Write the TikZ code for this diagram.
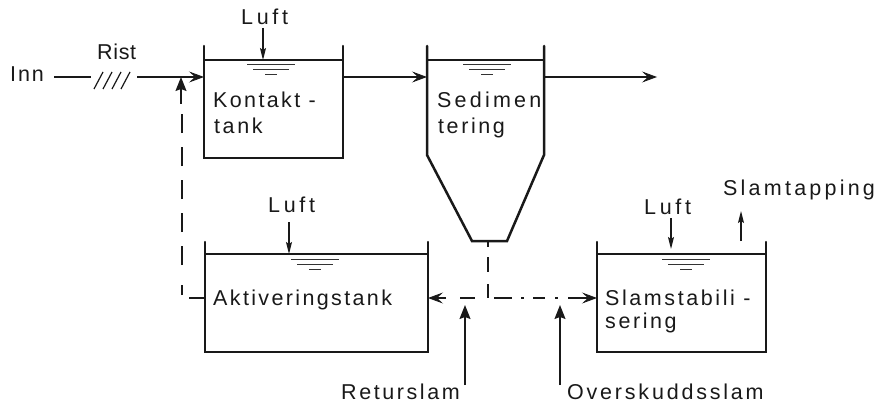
\documentclass[tikz,border=0pt]{standalone}
\usepackage{fontspec}
\setmainfont[LetterSpace=12]{Liberation Sans}
\usetikzlibrary{arrows.meta}
\newcommand{\lsp}[1]{\addfontfeature{LetterSpace=#1}}
\tikzset{
  wall/.style={line width=2.5pt,line cap=round,line join=miter,black!90},
  surf/.style={line width=1.5pt,black!90},
  flow/.style={line width=1.5pt,black!90,-{Stealth[length=15pt,width=11pt,inset=6pt,line width=0.8pt]}},
  plain/.style={line width=1.5pt,black!90},
  thin arrow/.style={line width=1.3pt,black!90,-{Stealth[length=12pt,width=6pt,inset=2pt]}},
  up arrow/.style={line width=1.3pt,black!90,-{Stealth[length=14pt,width=11pt,inset=2pt]}},
  dashline/.style={line width=1.5pt,black!90,dash pattern=on 19pt off 14pt},
  lab/.style={inner sep=0pt,anchor=base west,font=\fontsize{21.5}{22}\selectfont,black!90},
  ripple/.style={line width=1pt,black!80}
}
\newcommand{\opentank}[6]{% name, xl, xr, ytop, ywater, ybot
  \coordinate (#1tl) at (#2,#4);
  \coordinate (#1tr) at (#3,#4);
  \coordinate (#1bl) at (#2,#6);
  \coordinate (#1br) at (#3,#6);
  \coordinate (#1wl) at (#2,#5);
  \coordinate (#1wr) at (#3,#5);
  \draw[wall] (#1tl) -- (#1bl) -- (#1br) -- (#1tr);
  \draw[surf] (#1wl) -- (#1wr);
}
\newcommand{\ripples}[2]{%
  \draw[ripple] (#1-24,#2+5) -- (#1+24,#2+5);
  \draw[ripple] (#1-18,#2+10) -- (#1+18,#2+10);
  \draw[ripple] (#1-6,#2+15) -- (#1+6,#2+15);
}
\begin{document}
\begin{tikzpicture}[x=1pt,y=-1pt]
\useasboundingbox (0,0) rectangle (879,404);
% tanks
\opentank{K}{204}{343}{46}{60}{158}
\opentank{A}{205}{428}{242}{254}{352}
\opentank{S}{597}{766}{242}{254}{352}
\coordinate (Dtl) at (427,46); \coordinate (Dbl) at (427,155);
\coordinate (Dfl) at (472,241); \coordinate (Dfr) at (507,241);
\coordinate (Dbr) at (544,155); \coordinate (Dtr) at (544,46);
\draw[wall] (Dtl) -- (Dbl) -- (Dfl) -- (Dfr) -- (Dbr) -- (Dtr);
\draw[surf] (427,60) -- (544,60);
\ripples{271}{60}
\ripples{487}{60}
\ripples{315}{254}
\ripples{686}{254}
% labels
\node[lab] (inn) at (10,82) {\lsp{9}Inn};
\node[lab] (rist) at (97,60) {\lsp{3}Rist};
\node[lab] (l1) at (241,25) {\lsp{17}Luft};
\node[lab] (k1) at (213,107) {\lsp{11}Kontakt -};
\node[lab] (k2) at (214,133) {tank};
\node[lab] (d1) at (437,107) {\lsp{15}Sedimen};
\node[lab] (d2) at (438,133) {tering};
\node[lab] (l2) at (268,212) {\lsp{17}Luft};
\node[lab] (a1) at (213,305) {\lsp{11}Aktiveringstank};
\node[lab] (l3) at (644,214) {\lsp{17}Luft};
\node[lab] (tap) at (723,195) {\lsp{15}Slamtapping};
\node[lab] (s1) at (605,305) {Slamstabili -};
\node[lab] (s2) at (605,328) {sering};
\node[lab] (ret) at (341,399) {Returslam};
\node[lab] (ove) at (567,399) {\lsp{13}Overskuddsslam};
% main line
\coordinate (in1) at (54,77); \coordinate (in2) at (91,77);
\coordinate (in3) at (137,77); \coordinate (kin) at (204,77);
\coordinate (kout) at (343,77); \coordinate (din) at (427,77);
\coordinate (dout) at (544,77); \coordinate (end) at (657,77);
\draw[plain] (in1) -- (in2);
\foreach \x in {94,103,112,121}
  \draw[line width=1.2pt,black!90] (\x,89) -- (\x+9,72);
\draw[flow] (in3) -- (kin);
\draw[flow] (kout) -- (din);
\draw[flow] (dout) -- (end);
% air
\coordinate (a1t) at (263,28); \coordinate (a1b) at (263,60);
\coordinate (a2t) at (289,222); \coordinate (a2b) at (289,254);
\coordinate (a3t) at (671,218); \coordinate (a3b) at (671,249);
\draw[thin arrow] (a1t) -- (a1b);
\draw[thin arrow] (a2t) -- (a2b);
\draw[thin arrow] (a3t) -- (a3b);
\coordinate (t1) at (741,241); \coordinate (t2) at (741,211);
\draw[thin arrow] (t1) -- (t2);
% return sludge line
\coordinate (r0) at (204,298); \coordinate (r1) at (182,298);
\coordinate (r2) at (182,114); \coordinate (r3) at (181,104);
\coordinate (r4) at (181,77);
\draw[plain] (r0) -- (189,298);
\draw[plain] (182,295) -- (182,285);
\draw[dashline] (182,265) -- (r2);
\draw[up arrow] (r3) -- (r4);
% sedimentation outlet
\coordinate (v0) at (488,241); \coordinate (v1) at (488,298);
\draw[plain] (v0) -- (488,247);
\draw[plain] (488,257) -- (488,272);
\draw[plain] (488,284) -- (v1);
\coordinate (hl) at (428,298); \coordinate (hr) at (597,298);
\draw[flow] (446,298) -- (hl);
\draw[plain] (460,298) -- (475,298);
\draw[plain] (494,298) -- (512,298);
\draw[plain] (521,298) -- (524,298);
\draw[plain] (533,298) -- (545,298);
\draw[plain] (555,298) -- (558,298);
\draw[flow] (568,298) -- (hr);
% pointers
\coordinate (p1) at (465,385); \coordinate (p2) at (465,305);
\coordinate (p3) at (560,385); \coordinate (p4) at (560,305);
\draw[up arrow] (p1) -- (p2);
\draw[up arrow] (p3) -- (p4);
\end{tikzpicture}
\end{document}
